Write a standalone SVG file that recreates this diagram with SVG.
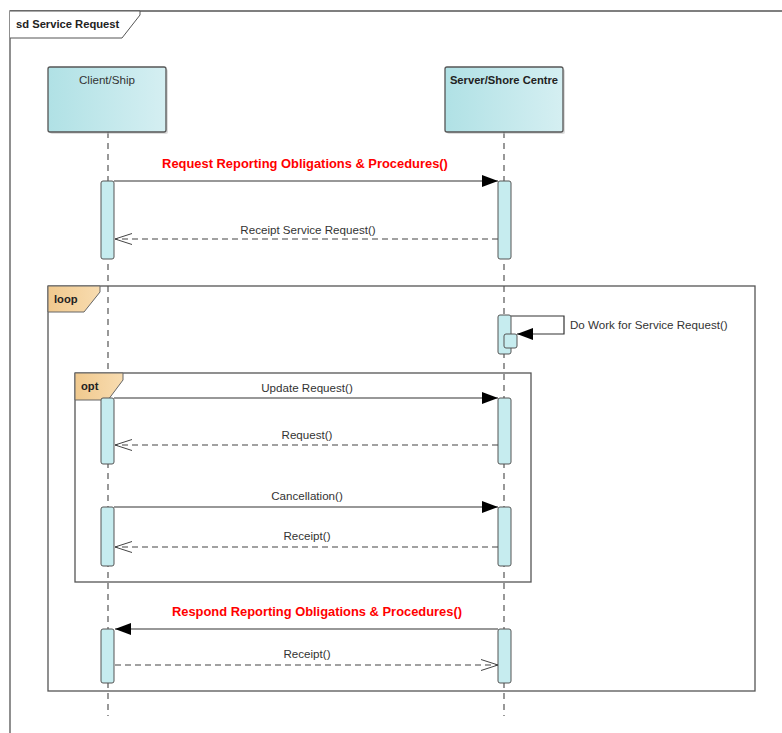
<svg xmlns="http://www.w3.org/2000/svg" width="782" height="733" viewBox="0 0 782 733">
<defs>
<linearGradient id="lg" x1="0" y1="0" x2="1" y2="0">
<stop offset="0" stop-color="#b0e1e5"/>
<stop offset="1" stop-color="#d5eff2"/>
</linearGradient>
<linearGradient id="tg" x1="0" y1="0" x2="1" y2="0">
<stop offset="0" stop-color="#f0c98e"/>
<stop offset="1" stop-color="#f8dcb0"/>
</linearGradient>
<marker id="filled" viewBox="0 0 16 12" refX="16" refY="6" markerWidth="16" markerHeight="12" markerUnits="userSpaceOnUse" orient="auto">
<path d="M0,0 L16,6 L0,12 Z" fill="#000"/>
</marker>
<marker id="open" viewBox="0 0 18 12" refX="17" refY="6" markerWidth="18" markerHeight="12" markerUnits="userSpaceOnUse" orient="auto">
<path d="M0,0.5 L17,6 L0,11.5" fill="none" stroke="#444" stroke-width="1"/>
</marker>
</defs>
<style>
text{font-family:"Liberation Sans",Arial,sans-serif;fill:#333;}
.t{font-size:11.6px;}
.red{font-size:12.9px;font-weight:bold;fill:#ff0000;}
.b{font-size:11.2px;font-weight:bold;fill:#222;}
.frame{fill:none;stroke:#555;stroke-width:1.3;}
.tab{fill:url(#tg);stroke:#666;stroke-width:1;}
.life{fill:url(#lg);stroke:#555;stroke-width:1.3;}
.ll{stroke:#555;stroke-width:1.2;stroke-dasharray:6,5;fill:none;}
.act{fill:#c6ecef;stroke:#555;stroke-width:1;}
.msg{stroke:#333;stroke-width:1.2;fill:none;}
.ret{stroke:#444;stroke-width:1.1;stroke-dasharray:6,4;fill:none;}
</style>
<rect width="782" height="733" fill="#fff"/>

<g id="frame-sd">
<path class="frame" d="M10,733 L10,11 L782,11"/>
<path d="M10,11 L140,11 L140,15 L122,38 L10,38" fill="#fff" stroke="#555" stroke-width="1"/>
<text class="b" x="16" y="28">sd Service Request</text>
</g>

<g id="lifelines">
<line class="ll" x1="108" y1="132" x2="108" y2="716"/>
<line class="ll" x1="504" y1="132" x2="504" y2="716"/>
</g>

<g id="client">
<rect x="50" y="69" width="118" height="65" rx="2" fill="#bbb" opacity="0.5"/>
<rect class="life" x="48" y="67" width="118" height="65" rx="2"/>
<text class="t" x="107" y="84" text-anchor="middle">Client/Ship</text>
</g>

<g id="server">
<rect x="447" y="69" width="118" height="65" rx="2" fill="#bbb" opacity="0.5"/>
<rect class="life" x="445" y="67" width="118" height="65" rx="2"/>
<text class="b" x="504" y="84" text-anchor="middle">Server/Shore Centre</text>
</g>

<g id="loop">
<rect class="frame" x="48" y="286" width="707" height="405"/>
<path class="tab" d="M48,286 L100,286 L100,292 L84,312 L48,312 Z"/>
<text class="b" x="54" y="303">loop</text>
</g>

<g id="opt">
<rect class="frame" x="75" y="373" width="456" height="209"/>
<path class="tab" d="M75,373 L123,373 L123,380 L108,400 L75,400 Z"/>
<text class="b" x="81" y="390">opt</text>
</g>

<g id="activations">
<rect class="act" x="101" y="181" width="13" height="78" rx="2"/>
<rect class="act" x="498" y="181" width="13" height="78" rx="2"/>
<rect class="act" x="498" y="315" width="13" height="39" rx="2"/>
<rect class="act" x="504" y="334" width="13" height="14" rx="2"/>
<rect class="act" x="101" y="398" width="13" height="66" rx="2"/>
<rect class="act" x="498" y="398" width="13" height="66" rx="2"/>
<rect class="act" x="101" y="507" width="13" height="59" rx="2"/>
<rect class="act" x="498" y="507" width="13" height="59" rx="2"/>
<rect class="act" x="101" y="629" width="13" height="54" rx="2"/>
<rect class="act" x="498" y="629" width="13" height="54" rx="2"/>
</g>

<g id="connectors">
<line class="msg" x1="114" y1="181" x2="498" y2="181" marker-end="url(#filled)"/>
<text class="red" x="305" y="168" text-anchor="middle">Request Reporting Obligations &amp; Procedures()</text>

<line class="ret" x1="498" y1="239" x2="115" y2="239" marker-end="url(#open)"/>
<text class="t" x="308" y="234" text-anchor="middle">Receipt Service Request()</text>

<path class="msg" d="M511,316 L564,316 L564,334 L517,334" marker-end="url(#filled)"/>
<text class="t" x="570" y="329">Do Work for Service Request()</text>

<line class="msg" x1="114" y1="398" x2="498" y2="398" marker-end="url(#filled)"/>
<text class="t" x="307" y="392" text-anchor="middle">Update Request()</text>

<line class="ret" x1="498" y1="445" x2="115" y2="445" marker-end="url(#open)"/>
<text class="t" x="307" y="439" text-anchor="middle">Request()</text>

<line class="msg" x1="114" y1="507" x2="498" y2="507" marker-end="url(#filled)"/>
<text class="t" x="307" y="500" text-anchor="middle">Cancellation()</text>

<line class="ret" x1="498" y1="547" x2="115" y2="547" marker-end="url(#open)"/>
<text class="t" x="307" y="540" text-anchor="middle">Receipt()</text>

<line class="msg" x1="498" y1="629" x2="115" y2="629" marker-end="url(#filled)"/>
<text class="red" x="317" y="616" text-anchor="middle">Respond Reporting Obligations &amp; Procedures()</text>

<line class="ret" x1="115" y1="665" x2="498" y2="665" marker-end="url(#open)"/>
<text class="t" x="307" y="658" text-anchor="middle">Receipt()</text>
</g>
</svg>
